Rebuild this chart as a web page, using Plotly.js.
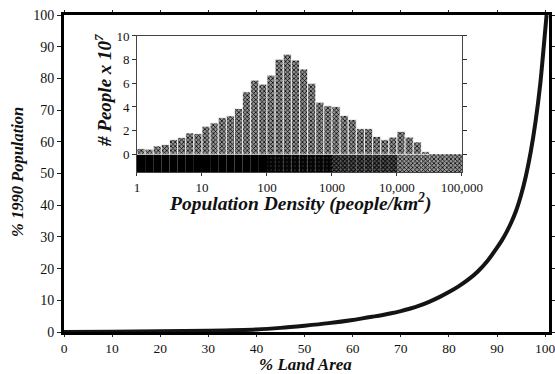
<!DOCTYPE html>
<html>
<head>
<meta charset="utf-8">
<script src="https://cdn.plot.ly/plotly-3.0.1.min.js"></script>
<style>html,body{margin:0;padding:0;background:#fff;}#chart{width:555px;height:374px;}</style>
</head>
<body>
<div id="chart"></div>
<script>
// Main curve: cumulative % of 1990 population vs % land area
var landPct = [0, 10, 20, 30, 40, 45, 50, 55, 60, 62, 64, 66, 68, 70, 72, 74, 76, 78, 80, 82, 84, 86, 88, 90, 91, 92, 93, 94, 95, 96, 97, 98, 99, 99.5, 100, 100.3];
var popPct  = [0, 0.1, 0.2, 0.4, 0.8, 1.3, 2.0, 2.8, 3.8, 4.3, 4.8, 5.3, 5.9, 6.6, 7.4, 8.4, 9.6, 11.0, 12.6, 14.4, 16.5, 19.1, 22.4, 26.6, 28.9, 31.6, 34.7, 38.4, 43.2, 49.2, 56.8, 66.3, 78.5, 86.5, 95, 100];

// Inset histogram: people (x 10^7) per density bin, 8 bins per decade starting at 1 person/km2
var peopleE7 = [0.48, 0.43, 0.70, 0.82, 1.24, 1.41, 1.80, 1.75,
                2.37, 2.65, 3.10, 3.25, 3.87, 5.28, 6.27, 5.93,
                6.69, 8.04, 8.46, 7.96, 7.20, 6.00, 4.40, 4.10,
                4.03, 3.28, 2.94, 2.16, 2.16, 1.50, 1.23, 1.45,
                1.93, 1.45, 1.04, 0.22];
var binsPerDecade = 8;
var decadeTickVals = [0, 1, 2, 3, 4, 5];
var decadeTickText = ['1', '10', '100', '1000', '10,000', '100,000'];
var mainTicks = [0, 10, 20, 30, 40, 50, 60, 70, 80, 90, 100];
var insetYTicks = [0, 2, 4, 6, 8, 10];
// shaded key band under the histogram: [first decade, last decade) per shade
var bandSegments = [[0, 2], [2, 3], [3, 4], [4, 5]];
var bandDepth = 1.5;

var serif = 'Liberation Serif, Times New Roman, serif';
var histX = peopleE7.map(function (v, i) { return (i + 0.5) / binsPerDecade; });

var barPattern = { shape: 'x', fgcolor: '#000', bgcolor: '#949494', size: 3, solidity: 0.44, fillmode: 'replace' };
var bandStyles = [
  { color: '#000', pattern: null },
  { color: '#050505', pattern: { shape: '.', fgcolor: '#3a3a3a', bgcolor: '#050505', size: 4, solidity: 0.12, fillmode: 'replace' } },
  { color: '#333', pattern: { shape: 'x', fgcolor: '#000', bgcolor: '#5a5a5a', size: 3, solidity: 0.55, fillmode: 'replace' } },
  { color: '#888', pattern: barPattern }
];

var traces = [
  {
    type: 'scatter', mode: 'lines', x: landPct, y: popPct,
    xaxis: 'x', yaxis: 'y',
    line: { color: '#141414', width: 4, shape: 'spline', smoothing: 0.8 },
    hoverinfo: 'skip'
  }
];

bandSegments.forEach(function (seg, k) {
  var xs = [], ys = [], bs = [];
  for (var i = seg[0] * binsPerDecade; i < seg[1] * binsPerDecade; i++) {
    xs.push((i + 0.5) / binsPerDecade); ys.push(bandDepth); bs.push(-bandDepth);
  }
  var st = bandStyles[k];
  var marker = { color: st.color, line: { width: 0 } };
  if (st.pattern) marker.pattern = st.pattern;
  traces.push({ type: 'bar', x: xs, y: ys, base: bs, width: 1 / binsPerDecade,
    xaxis: 'x2', yaxis: 'y2', marker: marker, hoverinfo: 'skip' });
});

traces.push({
  type: 'bar', x: histX, y: peopleE7, width: 1 / binsPerDecade,
  xaxis: 'x2', yaxis: 'y2',
  marker: { color: '#888', line: { color: '#fff', width: 0.8 }, pattern: barPattern },
  hoverinfo: 'skip'
});

var layout = {
  width: 555, height: 374,
  margin: { l: 64, r: 6, t: 15, b: 42, pad: 0 },
  paper_bgcolor: '#fff', plot_bgcolor: '#fff',
  showlegend: false, barmode: 'overlay',
  font: { family: serif, color: '#111' },
  xaxis: {
    range: [0, 100.8], tickvals: mainTicks, ticks: 'outside', ticklen: 2, tickwidth: 1, tickcolor: '#222',
    showline: true, linewidth: 3, linecolor: '#000', mirror: 'ticks', ticklabeloverflow: 'allow',
    showgrid: false, zeroline: false, tickfont: { family: serif, size: 13.5, color: '#111' }
  },
  yaxis: {
    range: [0, 100], tickvals: mainTicks, ticks: 'outside', ticklen: 4, tickwidth: 1, tickcolor: '#222',
    showline: true, linewidth: 3, linecolor: '#000', mirror: 'ticks', ticklabeloverflow: 'allow',
    showgrid: false, zeroline: false, tickfont: { family: serif, size: 14, color: '#111' }
  },
  xaxis2: {
    domain: [0.1505, 0.8206], anchor: 'y2', range: [0, 5],
    tickvals: decadeTickVals, ticktext: decadeTickText, ticks: 'outside', ticklen: 3, tickcolor: '#333',
    showline: true, linewidth: 1, linecolor: '#444', mirror: true,
    showgrid: false, zeroline: false, tickfont: { family: serif, size: 13, color: '#111' }
  },
  yaxis2: {
    domain: [0.5047, 0.9338], anchor: 'x2', range: [-1.5, 10],
    tickvals: insetYTicks, ticks: 'outside', ticklen: 4, tickcolor: '#333',
    showline: true, linewidth: 1, linecolor: '#444', mirror: 'ticks',
    showgrid: false, zeroline: false, tickfont: { family: serif, size: 13, color: '#111' }
  },
  annotations: [
    { xref: 'paper', yref: 'paper', x: -0.0948, y: 0.505, text: '<b><i>% 1990 Population</i></b>', textangle: -90,
      showarrow: false, xanchor: 'center', yanchor: 'middle', font: { family: serif, size: 16.5, color: '#111' } },
    { xref: 'paper', yref: 'paper', x: 0.497, y: -0.104, text: '<b><i>% Land Area</i></b>',
      showarrow: false, xanchor: 'center', yanchor: 'middle', font: { family: serif, size: 17, color: '#111' } },
    { xref: 'paper', yref: 'paper', x: 0.08, y: 0.763, text: '<b><i># People x 10<sup>7</sup></i></b>', textangle: -90,
      showarrow: false, xanchor: 'center', yanchor: 'middle', font: { family: serif, size: 19, color: '#111' } },
    { xref: 'paper', yref: 'paper', x: 0.4866, y: 0.41, text: '<b><i>Population Density (people/km<sup>2</sup>)</i></b>',
      showarrow: false, xanchor: 'center', yanchor: 'middle', font: { family: serif, size: 19.5, color: '#111' } }
  ]
};

Plotly.newPlot('chart', traces, layout, { staticPlot: true, displayModeBar: false });
</script>
</body>
</html>
